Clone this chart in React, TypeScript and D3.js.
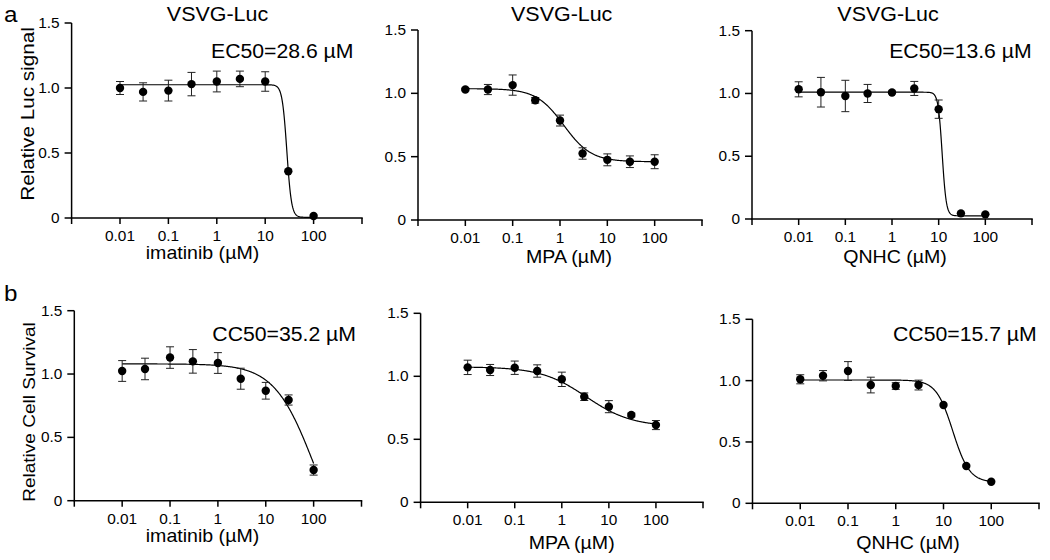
import React from "react";
import * as d3 from "d3";

// ---------- data ----------
const concentrations = [0.01, 0.03, 0.1, 0.3, 1, 3, 10, 30, 100];
const drugNames = ["imatinib", "MPA", "QNHC"];
const xTickValues = [0.001, 0.01, 0.1, 1, 10, 100, 1000];
const xTickLabels = ["", "0.01", "0.1", "1", "10", "100", ""];
const yTickValues = [0, 0.5, 1.0, 1.5];
const yTickLabels = ["0", "0.5", "1.0", "1.5"];

// row a: relative Luc signal (mean, error)
const imatinibLuc = [1.0, 0.97, 0.98, 1.03, 1.05, 1.07, 1.05, 0.36, 0.015];
const imatinibLucErr = [0.05, 0.07, 0.08, 0.09, 0.08, 0.06, 0.075, 0, 0];
const mpaLuc = [1.03, 1.03, 1.065, 0.945, 0.785, 0.525, 0.475, 0.46, 0.46];
const mpaLucErr = [0.01, 0.04, 0.08, 0.022, 0.043, 0.045, 0.047, 0.046, 0.055];
const qnhcLuc = [1.033, 1.01, 0.98, 1.0, 1.008, 1.04, 0.875, 0.045, 0.037];
const qnhcLucErr = [0.06, 0.118, 0.125, 0.072, 0.01, 0.056, 0.073, 0, 0];

// row b: relative cell survival (mean, error)
const imatinibSurv = [1.024, 1.04, 1.13, 1.1, 1.087, 0.963, 0.868, 0.795, 0.242];
const imatinibSurvErr = [0.082, 0.085, 0.085, 0.093, 0.082, 0.083, 0.066, 0.04, 0.04];
const mpaSurv = [1.071, 1.05, 1.068, 1.042, 0.976, 0.838, 0.759, 0.693, 0.613];
const mpaSurvErr = [0.057, 0.044, 0.053, 0.049, 0.057, 0.03, 0.048, 0.015, 0.036];
const qnhcSurv = [1.011, 1.04, 1.078, 0.964, 0.956, 0.964, 0.801, 0.304, 0.176];
const qnhcSurvErr = [0.037, 0.042, 0.077, 0.064, 0.027, 0.04, 0, 0, 0];

// fitted 4-parameter logistic curves: [top, bottom, midpoint, hill]
const imatinibLucFit = [1.025, 0.005, 28, 9];
const mpaLucFit = [1.037, 0.46, 1.2, 1.5];
const qnhcLucFit = [1.01, 0.025, 11.9, 10];
const imatinibSurvFit = [1.08, -0.5, 101, 1.05];
const mpaSurvFit = [1.075, 0.6, 3.3, 0.9];
const qnhcSurvFit = [1.005, 0.17, 15.7, 2.5];

const annotations = ["EC50=28.6 µM", "", "EC50=13.6 µM", "CC50=35.2 µM", "", "CC50=15.7 µM"];
const titles = ["VSVG-Luc", "VSVG-Luc", "VSVG-Luc", "", "", ""];
const yLabels = ["Relative Luc signal", "Relative Cell Survival"];
const rowLetters = ["a", "b"];

// ---------- layout ----------
const FONT = "'Liberation Sans', Arial, Helvetica, sans-serif";
const SX = 1.1;

type Layout = {
  x0: number; x1: number; yTop: number; yBot: number;
  titleX: number; xlabX: number; xlabY: number; annX: number; annY: number;
};
const layouts: Layout[] = [
  { x0: 71.6, x1: 362, yTop: 23, yBot: 218, titleX: 217.5, xlabX: 202.5, xlabY: 259, annX: 353.5, annY: 58.3 },
  { x0: 418, x1: 702, yTop: 30, yBot: 220, titleX: 561.7, xlabX: 569, xlabY: 263, annX: 0, annY: 0 },
  { x0: 752, x1: 1032, yTop: 30.7, yBot: 219, titleX: 888, xlabX: 895, xlabY: 263, annX: 1031.7, annY: 58.3 },
  { x0: 74.3, x1: 361.5, yTop: 310.7, yBot: 500.7, titleX: 0, xlabX: 202.5, xlabY: 541.5, annX: 356, annY: 341 },
  { x0: 420.6, x1: 703, yTop: 313.3, yBot: 502.3, titleX: 0, xlabX: 571.7, xlabY: 549, annX: 0, annY: 0 },
  { x0: 752.5, x1: 1039, yTop: 319.3, yBot: 503.3, titleX: 0, xlabX: 908, xlabY: 549, annX: 1036.7, annY: 341 },
];

const panelValues = [imatinibLuc, mpaLuc, qnhcLuc, imatinibSurv, mpaSurv, qnhcSurv];
const panelErrors = [imatinibLucErr, mpaLucErr, qnhcLucErr, imatinibSurvErr, mpaSurvErr, qnhcSurvErr];
const panelFits = [imatinibLucFit, mpaLucFit, qnhcLucFit, imatinibSurvFit, mpaSurvFit, qnhcSurvFit];

function T(props: {
  x: number; y: number; size: number; anchor?: string; rotate?: number; children: React.ReactNode;
}) {
  const { x, y, size, anchor = "middle", rotate = 0, children } = props;
  return (
    <text
      transform={`translate(${x},${y}) rotate(${rotate}) scale(${SX},1)`}
      fontFamily={FONT}
      fontSize={size}
      textAnchor={anchor}
      fill="#000"
    >
      {children}
    </text>
  );
}

function Panel({ i }: { i: number }) {
  const L = layouts[i];
  const x = d3.scaleLog().domain([0.001, 1000]).range([L.x0, L.x1]);
  const y = d3.scaleLinear().domain([0, 1.5]).range([L.yBot, L.yTop]);
  const vals = panelValues[i];
  const errs = panelErrors[i];
  const [top, bottom, mid, hill] = panelFits[i];
  const logModel = (c: number) => bottom + (top - bottom) / (1 + Math.pow(c / mid, hill));
  const samples = d3.range(0, 401).map((k) => Math.pow(10, -2 + (4 * k) / 400));
  const line = d3
    .line<number>()
    .x((c) => x(c))
    .y((c) => y(logModel(c)))
    .curve(d3.curveLinear);
  const capW = 4;
  return (
    <g>
      {/* axes */}
      <line x1={L.x0} x2={L.x0} y1={L.yBot} y2={L.yTop} stroke="#000" strokeWidth={1.5} />
      <line x1={L.x0 - 0.75} x2={L.x1 + 0.75} y1={L.yBot} y2={L.yBot} stroke="#000" strokeWidth={1.5} />
      {yTickValues.map((v, k) => (
        <g key={"yt" + k}>
          <line x1={L.x0 - 7} x2={L.x0} y1={y(v)} y2={y(v)} stroke="#000" strokeWidth={1.5} />
          <T x={L.x0 - 12} y={y(v) + 5} size={14} anchor="end">
            {yTickLabels[k]}
          </T>
        </g>
      ))}
      {xTickValues.map((v, k) => (
        <g key={"xt" + k}>
          <line x1={x(v)} x2={x(v)} y1={L.yBot} y2={L.yBot + 6} stroke="#000" strokeWidth={1.5} />
          {xTickLabels[k] && (
            <T x={x(v)} y={L.yBot + 23} size={14}>
              {xTickLabels[k]}
            </T>
          )}
        </g>
      ))}
      {/* fitted curve */}
      <path d={line(samples) || ""} fill="none" stroke="#000" strokeWidth={1.2} />
      {/* error bars */}
      {concentrations.map((c, k) =>
        errs[k] > 0 ? (
          <g key={"e" + k} stroke="#222" strokeWidth={1}>
            <line x1={x(c)} x2={x(c)} y1={y(vals[k] - errs[k])} y2={y(vals[k] + errs[k])} />
            <line x1={x(c) - capW} x2={x(c) + capW} y1={y(vals[k] - errs[k])} y2={y(vals[k] - errs[k])} />
            <line x1={x(c) - capW} x2={x(c) + capW} y1={y(vals[k] + errs[k])} y2={y(vals[k] + errs[k])} />
          </g>
        ) : null
      )}
      {/* points */}
      {concentrations.map((c, k) => (
        <circle key={"p" + k} cx={x(c)} cy={y(vals[k])} r={4.2} fill="#000" />
      ))}
      {/* texts */}
      {titles[i] && (
        <T x={L.titleX} y={21} size={19.5}>
          {titles[i]}
        </T>
      )}
      {annotations[i] && (
        <T x={L.annX} y={L.annY} size={19.3} anchor="end">
          {annotations[i]}
        </T>
      )}
      <T x={L.xlabX} y={L.xlabY} size={17.8}>
        {drugNames[i % 3] + " (µM)"}
      </T>
    </g>
  );
}

export default function App() {
  return (
    <svg
      width={1050}
      height={560}
      style={{ position: "absolute", left: 0, top: 0, background: "#fff" }}
    >
      <rect width={1050} height={560} fill="#fff" />
      {layouts.map((_, i) => (
        <Panel key={i} i={i} />
      ))}
      <T x={33.5} y={114} size={18.8} rotate={-90}>
        {yLabels[0]}
      </T>
      <T x={34.5} y={412} size={17.3} rotate={-90}>
        {yLabels[1]}
      </T>
      <T x={4} y={21.5} size={22} anchor="start">
        {rowLetters[0]}
      </T>
      <T x={4} y={300.5} size={22} anchor="start">
        {rowLetters[1]}
      </T>
    </svg>
  );
}
